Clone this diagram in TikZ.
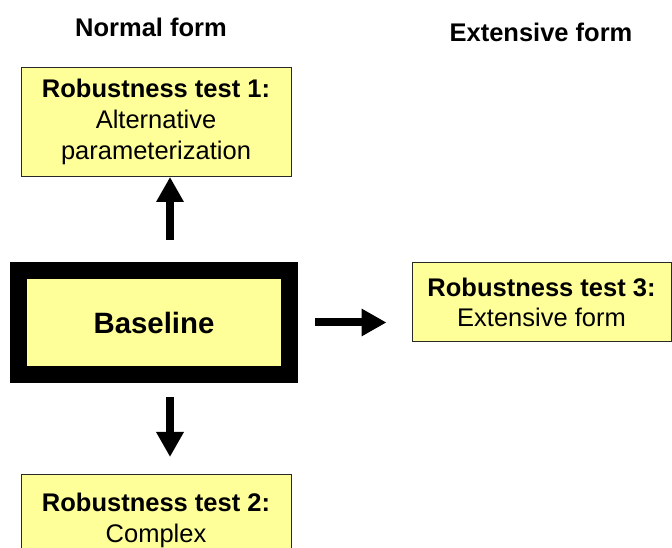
\documentclass[tikz,border=0pt]{standalone}
\usepackage{fontspec}
\setmainfont{Liberation Sans}
\usetikzlibrary{arrows.meta}

\definecolor{boxyellow}{RGB}{255,255,153}
\definecolor{boxline}{RGB}{40,40,40}

\tikzset{
  testbox/.style={draw=boxline, line width=1pt, fill=boxyellow, align=center,
    font=\fontsize{25.5}{30.6}\selectfont, inner sep=0pt},
  basebox/.style={draw=black, line width=17pt, fill=boxyellow,
    font=\fontsize{29.4}{35}\selectfont\bfseries, inner sep=0pt,
    minimum width=271pt, minimum height=104pt},
  header/.style={font=\fontsize{25.5}{30.6}\selectfont\bfseries, inner sep=0pt},
  bigarrow/.style={line width=8pt, -{Triangle[width=26pt,length=25pt]}}
}

\begin{document}
\begin{tikzpicture}[x=1pt,y=1pt]

\path[use as bounding box, clip] (0,0) rectangle (672,548);

% headers
\node[header] (nf) at (151,521) {Normal form};
\node[header] (ef) at (541,516) {Extensive form};

% boxes
\node[basebox] (base) at (154,225.5) {Baseline};
\node[testbox, minimum width=270pt, anchor=north, inner ysep=12pt] (rt1) at (156,481)
  {\textbf{Robustness test 1:}\\Alternative\\parameterization};
\node[testbox, minimum width=259pt, minimum height=79pt] (rt3) at (541.5,245.5)
  {\textbf{Robustness test 3:}\\Extensive form};
\node[testbox, minimum width=270pt, anchor=north, inner ysep=19pt] (rt2) at (156,74)
  {\textbf{Robustness test 2:}\\Complex\\\mbox{}\\\mbox{}};

% arrows
\draw[bigarrow] ([xshift=16pt,yshift=22pt]base.north) -- ([xshift=16pt]base.north |- rt1.south);
\draw[bigarrow] ([xshift=16pt,yshift=-14pt]base.south) -- ([xshift=16pt,yshift=17pt]base.south |- rt2.north);
\draw[bigarrow] ([xshift=17pt]base.east) -- ([xshift=-25pt]rt3.west |- base.east);

\end{tikzpicture}
\end{document}
